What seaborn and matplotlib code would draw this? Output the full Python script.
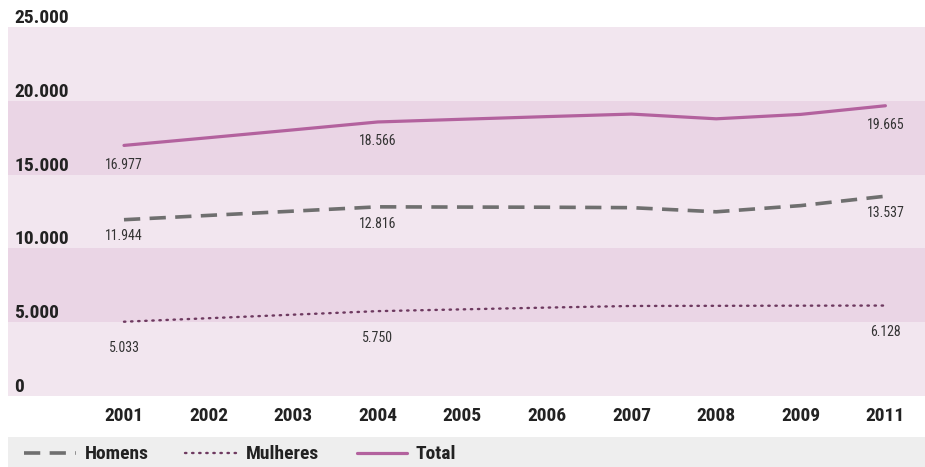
import matplotlib
matplotlib.use("Agg")
import matplotlib.pyplot as plt
import matplotlib.transforms as mtransforms
from matplotlib import font_manager
import seaborn as sns
import pandas as pd

years = ["2001", "2002", "2003", "2004", "2005", "2006", "2007", "2008", "2009", "2011"]
total = [16977, 17500, 18030, 18566, 18750, 18930, 19100, 18780, 19080, 19665]
homens = [11944, 12235, 12525, 12816, 12800, 12790, 12760, 12480, 12900, 13537]
mulheres = [5033, 5270, 5510, 5750, 5870, 5990, 6100, 6110, 6120, 6128]
y_ticks = [0, 5000, 10000, 15000, 20000, 25000]
y_tick_labels = ["0", "5.000", "10.000", "15.000", "20.000", "25.000"]
series_names = ["Homens", "Mulheres", "Total"]
label_idx = [0, 3, 9]

sns.set_theme(style="white")
names = {f.name for f in font_manager.fontManager.ttflist}
narrow = None
for cand in ["Liberation Sans Narrow", "DejaVu Sans Condensed", "Roboto Condensed", "Open Sans Condensed"]:
    if cand in names:
        narrow = cand
        break
fam = [narrow, "DejaVu Sans"] if narrow else ["DejaVu Sans"]
plt.rcParams["font.family"] = fam
plt.rcParams["font.stretch"] = "condensed"

W, H = 925, 467
fig = plt.figure(figsize=(W / 100, H / 100), dpi=100)
fig.patch.set_facecolor("white")
ax = fig.add_axes([8 / W, (H - 396) / H, 917 / W, 369 / H])

light, dark = "#f2e6ef", "#ead5e5"
for i, (lo, hi) in enumerate(zip(y_ticks[:-1], y_ticks[1:])):
    ax.axhspan(lo, hi, color=light if i % 2 == 0 else dark, lw=0, zorder=0)

idx = list(range(len(years)))
df = pd.DataFrame({
    "x": idx * 3,
    "v": homens + mulheres + total,
    "s": ["Homens"] * len(years) + ["Mulheres"] * len(years) + ["Total"] * len(years),
})
colors = {"Homens": "#6f6f6f", "Mulheres": "#6e3a60", "Total": "#b3629e"}
widths = {"Homens": 2.6, "Mulheres": 1.7, "Total": 2.3}
styles = {"Homens": (0, (4.5, 2.6)), "Mulheres": (0, (0.6, 2.4)), "Total": "-"}
for name in series_names:
    sub = df[df["s"] == name]
    sns.lineplot(data=sub, x="x", y="v", ax=ax, color=colors[name],
                 lw=widths[name], linestyle=styles[name], legend=False, zorder=3,
                 dash_capstyle="butt" if name != "Mulheres" else "round")

def fmt(v):
    return f"{v:,}".replace(",", ".")

offsets = {"Homens": -12, "Mulheres": -19, "Total": -14}
for name, vals in (("Homens", homens), ("Mulheres", mulheres), ("Total", total)):
    for i in label_idx:
        ax.annotate(fmt(vals[i]), (i, vals[i]), xytext=(0, offsets[name]),
                    textcoords="offset points", ha="center", va="center",
                    fontsize=10, color="#333333", zorder=4)

ax.set_xlim(-1.371, 9.468)
ax.set_ylim(0, 25000)
ax.set_xticks(idx)
ax.set_xticklabels(years, fontsize=14, fontweight="bold", color="#222222")
ax.tick_params(axis="x", length=0, pad=8)
ax.set_yticks([])
ax.set_xlabel("")
ax.set_ylabel("")
for s in ax.spines.values():
    s.set_visible(False)

trans = mtransforms.blended_transform_factory(ax.transAxes, ax.transData)
for v, lab in zip(y_ticks, y_tick_labels):
    ax.text(6 / 917, v, lab, transform=trans, ha="left", va="bottom",
            fontsize=14, fontweight="bold", color="#222222", clip_on=False, zorder=5)

# legend strip
lax = fig.add_axes([8 / W, 0, 917 / W, 30 / H])
lax.set_facecolor("#eeeeee")
lax.set_xlim(8, 925)
lax.set_ylim(0, 30)
lax.set_xticks([])
lax.set_yticks([])
for s in lax.spines.values():
    s.set_visible(False)
leg_items = [("Homens", 24, 76, 85), ("Mulheres", 185, 239, 246), ("Total", 357, 407, 415)]
for name, x0, x1, tx in leg_items:
    lax.plot([x0, x1], [14, 14], color=colors[name], lw=widths[name], linestyle=styles[name],
             dash_capstyle="butt" if name != "Mulheres" else "round")
    lax.text(tx, 13, name, ha="left", va="center", fontsize=14, fontweight="bold", color="#222222")

fig.savefig("out.png", dpi=100)
